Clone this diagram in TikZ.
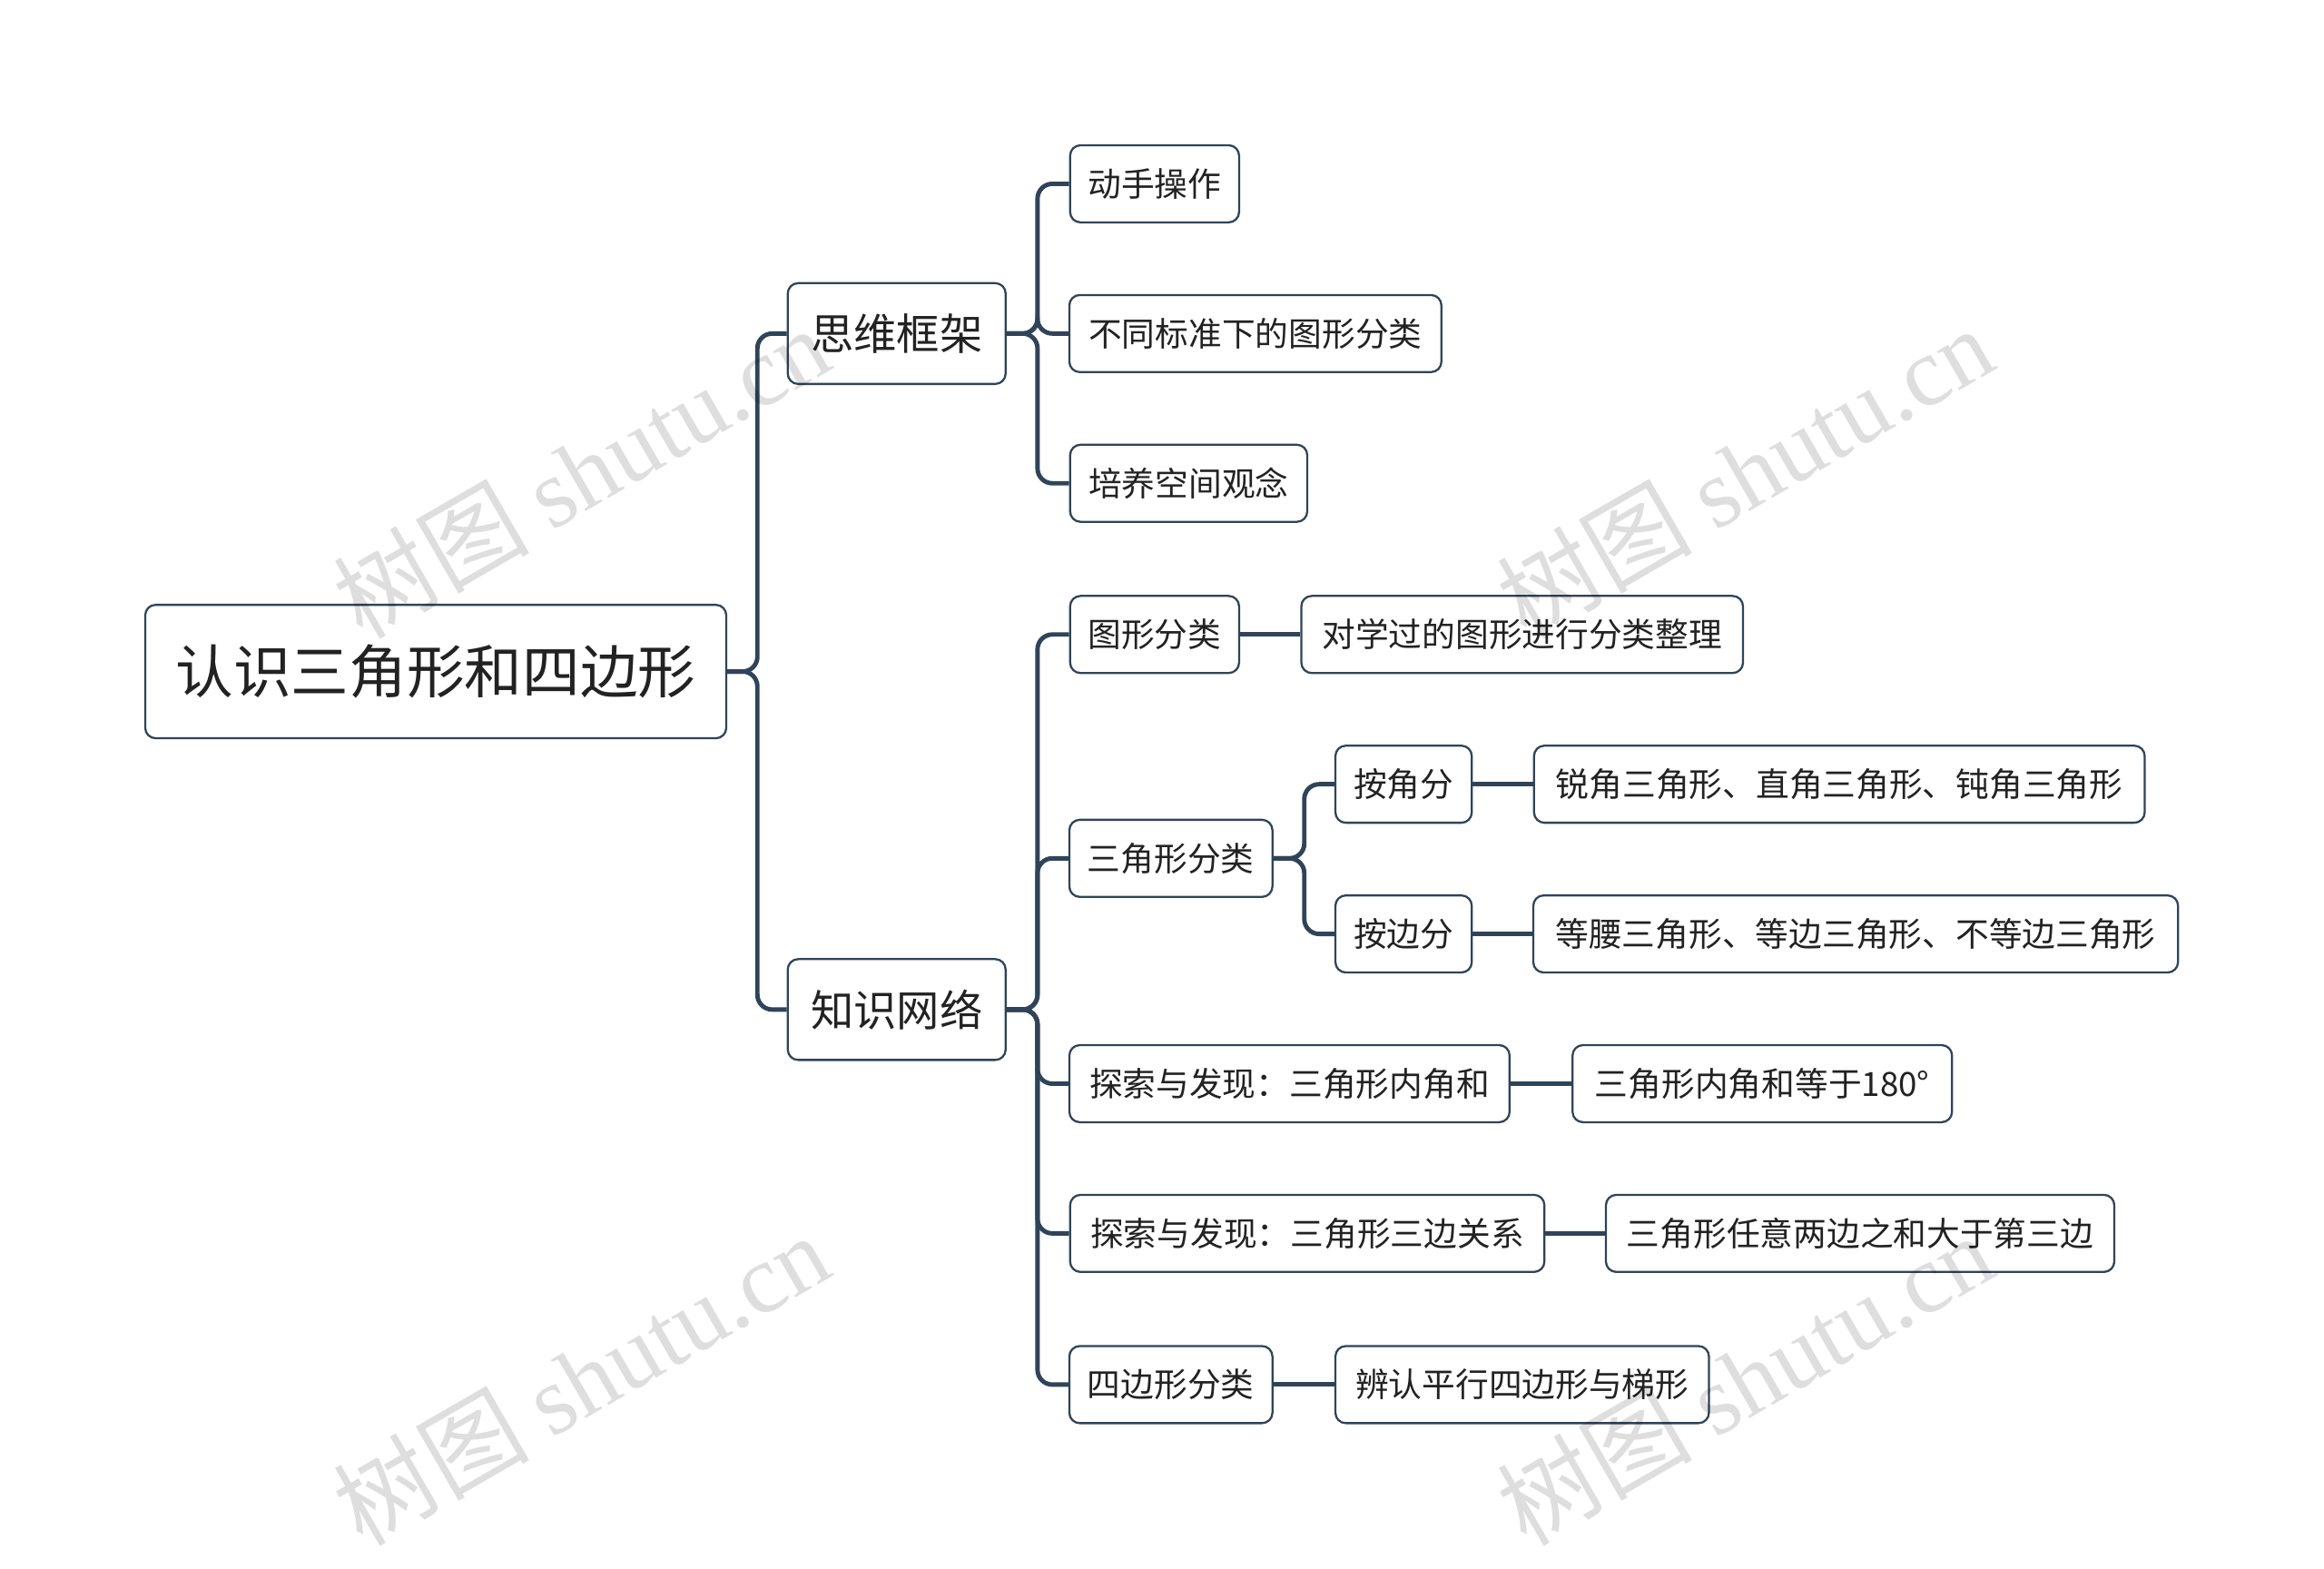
\documentclass[tikz,border=0pt]{standalone}
\usepackage{fontspec}
\setmainfont{Noto Sans CJK SC}
\newfontfamily\wmlat{Liberation Serif}
\begin{document}
\begin{tikzpicture}[x=1pt,y=-1pt,
 box/.style={draw=edgec,line width=1.4pt,rounded corners=7,fill=white,text=txtc,minimum height=52,inner xsep=0,font=\fontsize{22.5}{22.5}\selectfont},
 conn/.style={draw=edgec,line width=3pt,rounded corners=10},
 wm/.style={text=black,opacity=0.13,rotate=30,font=\fontsize{66}{66}\selectfont}]
\definecolor{edgec}{HTML}{2F4459}
\definecolor{txtc}{HTML}{222222}
\useasboundingbox (0,0) rectangle (1568,1058);
\node[box,minimum width=392,minimum height=90,font=\fontsize{39}{39}\selectfont] (root) at (294,453) {认识三角形和四边形};
\node[box,minimum width=147,minimum height=68,font=\fontsize{29}{29}\selectfont] (a) at (605,225) {思维框架};
\node[box,minimum width=147,minimum height=68,font=\fontsize{29}{29}\selectfont] (b) at (605,681) {知识网络};
\node[box,minimum width=114] (a1) at (779,124) {动手操作};
\node[box,minimum width=251] (a2) at (847,225) {不同标准下的图形分类};
\node[box,minimum width=160] (a3) at (802,326) {培养空间观念};
\node[box,minimum width=114] (b1) at (779,428) {图形分类};
\node[box,minimum width=298] (b1a) at (1027,428) {对学过的图形进行分类整理};
\node[box,minimum width=137] (b2) at (790,579) {三角形分类};
\node[box,minimum width=92] (b2a) at (947,529) {按角分};
\node[box,minimum width=412] (b2a1) at (1241,529) {锐角三角形、直角三角形、钝角三角形};
\node[box,minimum width=92] (b2b) at (947,630) {按边分};
\node[box,minimum width=435] (b2b1) at (1252,630) {等腰三角形、等边三角形、不等边三角形};
\node[box,minimum width=297] (b3) at (870,731) {探索与发现：三角形内角和};
\node[box,minimum width=256] (b3a) at (1189,731) {三角形内角和等于180°};
\node[box,minimum width=320] (b4) at (882,832) {探索与发现：三角形三边关系};
\node[box,minimum width=343] (b4a) at (1255,832) {三角形任意两边之和大于第三边};
\node[box,minimum width=137] (b5) at (790,934) {四边形分类};
\node[box,minimum width=252] (b5a) at (1027,934) {辨认平行四边形与梯形};
\foreach \c in {a,b} \draw[conn] (root.east) -- (root.east -| 511,0) |- (\c.west);
\foreach \c in {a1,a2,a3} \draw[conn] (a.east) -- (a.east -| 700,0) |- (\c.west);
\foreach \c in {b1,b2,b3,b4,b5} \draw[conn] (b.east) -- (b.east -| 700,0) |- (\c.west);
\foreach \c in {b2a,b2b} \draw[conn] (b2.east) -- (b2.east -| 880,0) |- (\c.west);
\draw[conn] (b1) -- (b1a);
\draw[conn] (b2a) -- (b2a1);
\draw[conn] (b2b) -- (b2b1);
\draw[conn] (b3) -- (b3a);
\draw[conn] (b4) -- (b4a);
\draw[conn] (b5) -- (b5a);
\foreach \p/\n in {(392,318)/w1,(1177,318)/w2,(392,930)/w3,(1177,930)/w4}
 \node[wm] (\n) at \p {树图 {\wmlat shutu.cn}};
\end{tikzpicture}
\end{document}
